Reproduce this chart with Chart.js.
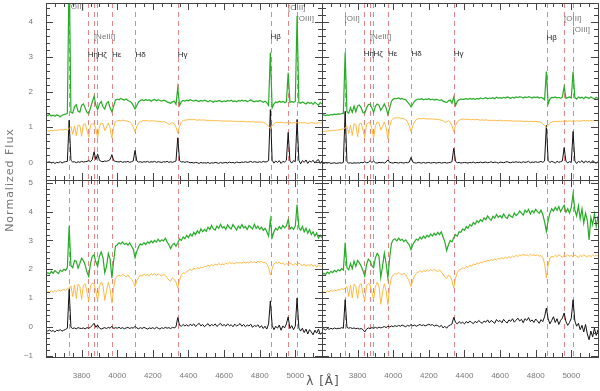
<!DOCTYPE html>
<html>
<head>
<meta charset="utf-8">
<script src="https://cdn.jsdelivr.net/npm/chart.js@4/dist/chart.umd.min.js"></script>
<style>
  body { margin: 0; background: #fff; }
  #wrap { position: relative; width: 600px; height: 391px; }
  #wrap canvas { position: absolute; left: 0; top: 0; }
</style>
</head>
<body>
<div id="wrap">
  <canvas id="tl" width="600" height="391"></canvas>
  <canvas id="tr" width="600" height="391"></canvas>
  <canvas id="bl" width="600" height="391"></canvas>
  <canvas id="br" width="600" height="391"></canvas>
</div>
<script>
// wavelength grid (Angstrom)
const LAMBDA = [
  3600,3610,3620,3630,3640,3650,3660,3670,3680,3690,
  3700,3710,3720,3730,3740,3750,3760,3770,3780,3790,
  3800,3810,3820,3830,3840,3850,3860,3870,3880,3890,
  3900,3910,3920,3930,3940,3950,3960,3970,3980,3990,
  4000,4010,4020,4030,4040,4050,4060,4070,4080,4090,
  4100,4110,4120,4130,4140,4150,4160,4170,4180,4190,
  4200,4210,4220,4230,4240,4250,4260,4270,4280,4290,
  4300,4310,4320,4330,4340,4350,4360,4370,4380,4390,
  4400,4410,4420,4430,4440,4450,4460,4470,4480,4490,
  4500,4510,4520,4530,4540,4550,4560,4570,4580,4590,
  4600,4610,4620,4630,4640,4650,4660,4670,4680,4690,
  4700,4710,4720,4730,4740,4750,4760,4770,4780,4790,
  4800,4810,4820,4830,4840,4850,4860,4870,4880,4890,
  4900,4910,4920,4930,4940,4950,4960,4970,4980,4990,
  5000,5010,5020,5030,5040,5050,5060,5070,5080,5090,
  5100,5110,5120,5130,5140,5150
];

// top left panel
const greenTL = [
  1.35,1.33,1.36,1.32,1.34,1.31,1.35,1.33,1.30,1.34,
  1.36,1.37,1.40,5.60,1.42,1.40,1.58,1.64,1.45,1.43,
  1.62,1.66,1.55,1.42,1.38,1.55,1.72,1.88,1.62,1.50,
  1.66,1.73,1.58,1.52,1.68,1.72,1.55,1.44,1.60,1.77,
  1.80,1.78,1.82,1.79,1.77,1.80,1.76,1.74,1.70,1.62,
  1.52,1.62,1.72,1.76,1.78,1.75,1.79,1.76,1.78,1.74,
  1.77,1.79,1.75,1.78,1.76,1.74,1.77,1.75,1.72,1.70,
  1.68,1.72,1.74,1.65,2.12,1.62,1.72,1.76,1.74,1.77,
  1.75,1.78,1.76,1.74,1.77,1.75,1.73,1.76,1.74,1.77,
  1.75,1.72,1.76,1.74,1.71,1.75,1.73,1.76,1.74,1.72,
  1.75,1.73,1.76,1.74,1.77,1.73,1.75,1.72,1.76,1.74,
  1.77,1.74,1.76,1.73,1.75,1.78,1.74,1.72,1.75,1.73,
  1.76,1.74,1.71,1.74,1.70,1.62,3.12,1.55,1.66,1.72,
  1.70,1.74,1.71,1.73,1.70,1.72,2.55,1.70,1.73,1.71,
  1.74,4.17,1.70,1.68,1.72,1.69,1.66,1.71,1.68,1.70,
  1.65,1.71,1.67,1.62,1.70,1.66
];
const orangeTL = [
  0.90,0.89,0.90,0.91,0.90,0.92,0.91,0.92,0.93,0.92,
  0.93,0.94,0.92,0.96,1.02,0.80,1.04,0.76,1.06,1.05,
  0.74,1.08,1.10,0.92,0.72,1.06,1.10,1.09,0.95,0.70,
  1.02,1.12,1.10,0.90,1.00,1.12,0.98,0.69,1.00,1.16,
  1.18,1.19,1.18,1.20,1.19,1.18,1.17,1.15,1.10,1.00,
  0.87,1.02,1.12,1.16,1.18,1.19,1.18,1.19,1.17,1.18,
  1.19,1.17,1.18,1.16,1.17,1.15,1.16,1.14,1.12,1.08,
  1.10,1.13,1.10,1.00,0.84,1.02,1.14,1.18,1.20,1.21,
  1.21,1.22,1.21,1.22,1.21,1.20,1.21,1.20,1.21,1.20,
  1.20,1.19,1.20,1.19,1.18,1.19,1.18,1.19,1.18,1.17,
  1.18,1.17,1.18,1.17,1.18,1.17,1.16,1.17,1.16,1.17,
  1.16,1.17,1.16,1.15,1.16,1.15,1.16,1.15,1.14,1.15,
  1.14,1.15,1.13,1.12,1.08,1.02,0.96,1.04,1.10,1.13,
  1.14,1.13,1.14,1.13,1.12,1.13,1.12,1.13,1.12,1.13,
  1.12,1.13,1.12,1.13,1.12,1.13,1.12,1.11,1.12,1.13,
  1.12,1.11,1.12,1.13,1.12,1.12
];
const blackTL = [
  0.03,0.00,0.02,-0.02,0.01,-0.03,0.00,-0.01,0.02,-0.02,
  0.01,0.02,0.03,1.20,0.06,0.01,0.02,-0.01,0.02,0.00,
  0.03,0.01,0.02,0.03,0.05,0.02,0.08,0.30,0.08,0.24,
  0.06,0.03,0.02,0.04,0.03,0.05,0.08,0.22,0.05,0.03,
  0.02,0.01,0.03,0.00,0.02,0.01,0.03,0.00,0.02,0.04,
  0.34,0.04,0.01,0.02,0.00,0.02,0.01,0.03,0.00,0.02,
  0.01,0.03,0.00,0.02,0.01,0.00,0.02,0.01,0.03,0.00,
  0.02,0.00,0.02,0.04,0.70,0.05,0.01,0.02,0.00,0.02,
  0.01,-0.01,0.00,-0.02,0.00,-0.01,-0.03,0.00,-0.02,-0.01,
  -0.02,0.00,-0.03,-0.01,-0.02,0.00,-0.01,-0.03,0.00,-0.02,
  -0.01,0.00,-0.02,0.01,-0.01,0.00,-0.02,0.01,0.00,-0.01,
  0.01,0.00,0.02,0.00,0.01,0.03,0.00,0.02,0.01,0.00,
  0.02,0.00,0.03,0.01,0.02,0.05,1.50,0.06,-0.02,0.04,
  0.00,0.05,-0.03,0.03,0.01,0.06,0.85,0.04,-0.02,0.05,
  0.02,1.22,0.06,-0.04,0.05,0.00,0.07,-0.03,0.04,0.01,
  0.06,-0.02,0.05,0.08,-0.03,0.04
];

// top right panel
const greenTR = [
  1.34,1.35,1.33,1.35,1.34,1.36,1.35,1.37,1.36,1.38,
  1.37,1.39,1.40,3.12,1.44,1.40,1.55,1.42,1.60,1.44,
  1.60,1.63,1.55,1.42,1.40,1.55,1.64,1.66,1.55,1.42,
  1.60,1.66,1.62,1.48,1.56,1.66,1.55,1.36,1.55,1.74,
  1.80,1.82,1.81,1.83,1.80,1.82,1.79,1.78,1.72,1.66,
  1.58,1.66,1.74,1.78,1.80,1.79,1.81,1.78,1.80,1.79,
  1.81,1.78,1.80,1.77,1.79,1.78,1.76,1.78,1.74,1.72,
  1.70,1.75,1.77,1.68,1.86,1.62,1.74,1.78,1.80,1.79,
  1.80,1.81,1.79,1.82,1.80,1.81,1.79,1.82,1.80,1.83,
  1.81,1.82,1.84,1.81,1.83,1.82,1.84,1.81,1.85,1.83,
  1.84,1.82,1.85,1.83,1.86,1.84,1.82,1.85,1.83,1.86,
  1.84,1.87,1.85,1.83,1.86,1.84,1.87,1.85,1.83,1.86,
  1.84,1.86,1.83,1.85,1.82,1.78,2.58,1.66,1.80,1.85,
  1.84,1.86,1.83,1.85,1.82,1.86,2.15,1.82,1.84,1.86,
  1.83,2.58,1.84,1.80,1.86,1.83,1.85,1.81,1.86,1.84,
  1.82,1.86,1.83,1.80,1.85,1.82
];
const orangeTR = [
  0.88,0.88,0.89,0.89,0.90,0.90,0.91,0.91,0.92,0.92,
  0.93,0.94,0.95,0.98,1.02,0.82,1.06,0.77,1.10,1.08,
  0.73,1.10,1.12,0.92,0.71,1.08,1.13,1.12,0.96,0.69,
  1.04,1.15,1.13,0.92,1.02,1.15,1.00,0.67,1.02,1.20,
  1.25,1.27,1.26,1.27,1.26,1.25,1.24,1.22,1.16,1.04,
  0.88,1.04,1.16,1.22,1.24,1.25,1.24,1.25,1.24,1.23,
  1.24,1.23,1.24,1.22,1.23,1.22,1.21,1.20,1.18,1.14,
  1.15,1.18,1.14,1.04,0.88,1.05,1.16,1.20,1.22,1.23,
  1.23,1.22,1.23,1.22,1.21,1.22,1.21,1.22,1.21,1.20,
  1.21,1.20,1.21,1.20,1.19,1.20,1.19,1.20,1.19,1.19,
  1.20,1.19,1.18,1.19,1.18,1.19,1.18,1.18,1.17,1.18,
  1.17,1.18,1.17,1.17,1.16,1.17,1.16,1.17,1.16,1.16,
  1.17,1.16,1.15,1.14,1.10,1.05,0.99,1.06,1.12,1.15,
  1.16,1.17,1.16,1.17,1.16,1.17,1.17,1.18,1.17,1.18,
  1.17,1.18,1.17,1.18,1.18,1.17,1.18,1.19,1.18,1.19,
  1.18,1.19,1.18,1.19,1.19,1.19
];
const blackTR = [
  -0.02,-0.03,-0.01,-0.02,0.00,-0.03,-0.02,-0.01,-0.03,-0.02,
  -0.01,-0.02,0.00,1.45,0.02,-0.02,-0.01,-0.03,-0.01,-0.02,
  -0.01,-0.02,0.00,-0.01,0.02,-0.01,0.00,0.05,0.00,0.04,
  -0.01,-0.02,0.00,-0.01,0.00,-0.02,0.01,0.07,0.00,-0.01,
  -0.02,0.00,-0.01,-0.02,0.00,-0.01,-0.02,0.00,-0.01,0.01,
  0.14,0.01,-0.01,-0.02,0.00,-0.01,-0.02,0.00,-0.02,-0.01,
  0.00,-0.02,-0.01,0.00,-0.02,-0.01,0.00,-0.02,-0.01,0.00,
  -0.02,-0.01,0.00,0.02,0.40,0.03,-0.01,0.00,-0.02,-0.01,
  0.00,-0.01,-0.02,0.00,-0.01,0.01,-0.02,0.00,-0.01,0.01,
  -0.01,0.00,0.01,-0.01,0.00,0.02,-0.01,0.01,0.00,-0.02,
  0.01,0.00,-0.01,0.01,0.02,0.00,-0.01,0.01,0.00,0.02,
  0.00,0.01,-0.01,0.02,0.00,0.01,0.03,-0.01,0.01,0.00,
  0.02,0.00,0.01,0.03,0.00,0.04,1.05,0.05,0.00,0.03,
  0.01,-0.02,0.03,0.00,0.02,0.04,0.42,0.03,-0.01,0.02,
  0.00,0.88,0.04,-0.03,0.03,0.00,0.05,-0.02,0.04,0.00,
  0.03,-0.02,0.05,0.01,-0.03,0.03
];

// bottom left panel
const greenBL = [
  1.81,1.88,1.84,1.92,1.86,1.95,1.90,1.85,1.97,1.92,
  2.00,1.96,2.06,3.50,2.12,2.05,2.30,2.28,2.04,2.20,
  2.38,2.30,2.15,1.90,1.75,2.20,2.45,2.50,2.25,2.10,
  2.45,2.60,2.40,1.88,2.10,2.55,2.35,1.70,2.30,2.80,
  2.85,2.92,2.88,2.95,2.86,2.90,2.84,2.92,2.80,2.70,
  2.40,2.62,2.78,2.88,2.84,2.92,2.86,2.95,2.90,2.98,
  2.92,3.00,2.94,3.04,2.96,3.02,2.98,3.08,2.95,2.85,
  2.72,2.85,2.90,2.80,2.92,3.05,3.00,3.12,3.06,3.18,
  3.10,3.22,3.15,3.28,3.20,3.34,3.25,3.40,3.30,3.38,
  3.32,3.46,3.38,3.52,3.40,3.36,3.50,3.42,3.56,3.44,
  3.48,3.38,3.54,3.45,3.40,3.55,3.46,3.36,3.50,3.42,
  3.55,3.44,3.48,3.38,3.52,3.46,3.40,3.56,3.42,3.50,
  3.38,3.46,3.35,3.42,3.30,3.15,3.72,3.10,3.30,3.42,
  3.36,3.48,3.40,3.52,3.44,3.50,3.72,3.40,3.46,3.38,
  3.50,4.25,3.45,3.35,3.48,3.30,3.42,3.25,3.38,3.20,
  3.30,3.15,3.26,3.08,3.18,3.10
];
const orangeBL = [
  1.17,1.22,1.19,1.25,1.20,1.26,1.22,1.28,1.24,1.27,
  1.30,1.26,1.32,1.35,1.42,1.05,1.45,0.98,1.48,1.40,
  0.95,1.45,1.50,1.20,0.90,1.42,1.52,1.48,1.25,0.92,
  1.40,1.55,1.45,0.92,1.25,1.55,1.30,0.83,1.35,1.70,
  1.75,1.80,1.76,1.82,1.78,1.74,1.80,1.72,1.65,1.55,
  1.40,1.60,1.72,1.80,1.76,1.84,1.78,1.82,1.76,1.85,
  1.80,1.86,1.78,1.84,1.80,1.76,1.83,1.78,1.70,1.62,
  1.58,1.70,1.65,1.55,1.35,1.62,1.80,1.88,1.85,1.92,
  1.95,2.00,1.96,2.04,2.00,2.06,2.02,2.08,2.05,2.10,
  2.08,2.14,2.10,2.16,2.12,2.18,2.14,2.20,2.15,2.18,
  2.16,2.22,2.18,2.24,2.20,2.22,2.18,2.25,2.21,2.24,
  2.20,2.26,2.22,2.25,2.21,2.27,2.23,2.26,2.22,2.28,
  2.24,2.27,2.22,2.25,2.18,2.05,1.80,2.02,2.18,2.24,
  2.20,2.25,2.18,2.22,2.15,2.20,2.16,2.23,2.18,2.14,
  2.20,2.15,2.22,2.16,2.12,2.18,2.10,2.16,2.12,2.18,
  2.10,2.15,2.08,2.14,2.10,2.12
];
const blackBL = [
  -0.12,-0.15,-0.11,-0.16,-0.13,-0.18,-0.12,-0.14,-0.10,-0.15,
  -0.12,-0.09,-0.05,1.30,-0.02,-0.06,-0.04,-0.07,-0.03,-0.05,
  -0.06,-0.04,-0.07,-0.03,-0.05,-0.02,0.05,0.12,-0.02,0.06,
  -0.04,-0.08,-0.05,-0.03,-0.06,-0.02,-0.05,0.02,-0.06,-0.03,
  -0.05,-0.02,-0.06,-0.03,-0.07,-0.04,-0.02,-0.06,-0.03,-0.05,
  0.02,-0.04,-0.07,-0.03,-0.06,-0.02,-0.05,-0.08,-0.04,-0.06,
  -0.03,-0.07,-0.02,-0.05,-0.08,-0.03,-0.06,-0.02,-0.05,-0.03,
  -0.06,-0.02,-0.04,0.00,0.32,0.05,0.02,0.08,0.03,0.07,
  0.02,0.09,0.04,0.10,0.01,0.07,0.12,0.03,0.08,0.00,
  0.06,0.11,0.02,0.08,0.04,0.10,0.01,0.07,0.12,0.03,
  0.08,0.02,0.10,0.04,0.07,0.00,0.09,0.03,0.06,0.11,
  0.02,0.08,0.00,0.06,0.03,0.09,-0.02,0.05,0.01,0.07,
  -0.03,0.04,-0.06,0.02,-0.08,0.10,0.90,0.05,-0.10,0.02,
  -0.05,0.06,-0.12,0.03,-0.04,0.10,0.34,-0.06,0.04,-0.10,
  0.02,1.00,-0.04,-0.15,-0.05,-0.20,-0.08,-0.25,-0.10,-0.18,
  -0.28,-0.12,-0.22,-0.08,-0.26,-0.20
];

// bottom right panel
const greenBR = [
  1.80,1.86,1.82,1.90,1.85,1.93,1.88,1.96,1.91,1.98,
  1.94,2.02,1.97,2.92,2.05,1.98,2.20,2.02,2.28,2.10,
  2.30,2.22,2.10,1.95,1.76,2.15,2.35,2.28,2.12,2.05,
  2.40,2.55,2.45,1.72,2.10,2.56,2.20,1.70,2.40,2.90,
  3.02,3.06,2.98,3.08,3.00,3.04,2.96,3.02,2.92,2.85,
  2.68,2.85,2.96,3.05,3.00,3.12,3.05,3.15,3.08,3.18,
  3.12,3.22,3.15,3.25,3.18,3.28,3.20,3.30,3.12,2.95,
  2.65,2.85,3.00,2.95,3.10,3.20,3.15,3.30,3.28,3.40,
  3.35,3.48,3.42,3.55,3.50,3.62,3.56,3.68,3.62,3.72,
  3.66,3.78,3.72,3.85,3.76,3.70,3.84,3.78,3.90,3.80,
  3.86,3.78,3.92,3.82,3.76,3.90,3.84,3.80,3.95,3.86,
  3.92,4.02,3.95,3.88,4.05,3.98,4.08,3.92,4.04,3.96,
  4.08,4.00,3.94,4.05,3.90,3.65,3.32,3.70,3.95,4.10,
  4.02,4.15,4.05,4.18,4.00,4.12,4.22,3.98,4.10,3.95,
  4.15,4.62,4.05,3.85,4.20,3.75,4.10,3.60,3.95,3.70,
  3.02,3.80,3.55,3.92,3.48,3.85
];
const orangeBR = [
  1.17,1.22,1.18,1.25,1.21,1.27,1.23,1.28,1.25,1.30,
  1.27,1.32,1.30,1.35,1.40,1.05,1.45,1.00,1.48,1.40,
  0.98,1.45,1.50,1.15,0.92,1.42,1.50,1.46,1.20,0.95,
  1.40,1.55,1.42,0.78,1.20,1.50,1.25,0.77,1.40,1.72,
  1.80,1.85,1.82,1.88,1.84,1.80,1.86,1.80,1.70,1.58,
  1.40,1.62,1.78,1.86,1.90,1.95,1.90,1.96,1.92,1.98,
  1.93,1.99,1.94,2.00,1.95,1.92,1.98,1.90,1.82,1.72,
  1.68,1.80,1.75,1.60,1.35,1.70,1.88,1.98,2.00,2.05,
  2.02,2.10,2.06,2.14,2.10,2.18,2.15,2.22,2.18,2.25,
  2.22,2.28,2.25,2.32,2.28,2.34,2.30,2.36,2.32,2.38,
  2.35,2.40,2.36,2.42,2.38,2.44,2.40,2.46,2.42,2.48,
  2.44,2.50,2.46,2.52,2.48,2.50,2.46,2.52,2.48,2.50,
  2.47,2.50,2.45,2.48,2.40,2.20,1.70,2.15,2.38,2.46,
  2.42,2.48,2.44,2.50,2.46,2.42,2.48,2.44,2.50,2.45,
  2.48,2.43,2.50,2.45,2.41,2.48,2.44,2.50,2.46,2.42,
  2.48,2.44,2.50,2.45,2.48,2.46
];
const blackBR = [
  -0.10,-0.07,-0.11,-0.06,-0.09,-0.05,-0.08,-0.04,-0.07,-0.05,
  -0.06,-0.03,-0.05,0.94,-0.02,-0.05,-0.03,-0.06,-0.04,-0.07,
  -0.05,-0.08,-0.06,-0.10,-0.18,-0.08,-0.04,-0.06,-0.03,-0.05,
  -0.02,-0.05,-0.01,-0.04,-0.02,0.01,-0.03,0.02,-0.01,0.03,
  0.00,0.04,0.01,0.05,0.02,0.06,0.03,0.00,0.05,0.02,
  0.08,0.03,0.06,0.02,0.05,0.08,0.04,0.07,0.03,0.06,
  0.09,0.05,0.08,0.02,0.06,0.04,0.00,0.05,-0.04,0.02,
  -0.05,0.03,0.06,0.10,0.33,0.15,0.10,0.18,0.12,0.16,
  0.10,0.18,0.13,0.20,0.15,0.11,0.19,0.14,0.22,0.16,
  0.12,0.20,0.16,0.24,0.14,0.22,0.17,0.12,0.25,0.18,
  0.22,0.14,0.26,0.18,0.13,0.24,0.19,0.28,0.16,0.23,
  0.30,0.20,0.26,0.14,0.28,0.22,0.32,0.18,0.24,0.15,
  0.27,0.20,0.12,0.25,0.18,0.35,0.65,0.28,0.10,0.22,
  0.35,0.15,0.28,0.08,0.22,0.30,0.48,0.18,0.05,0.15,
  0.30,0.94,0.20,0.02,0.12,-0.10,0.05,-0.18,0.08,-0.25,
  -0.45,-0.15,-0.35,-0.05,-0.30,-0.10
];

// marked lines
const LINE_WAVES = [3727, 3835, 3869, 3889, 3970, 4102, 4340, 4861, 4959, 5007];
const LINE_NAMES = ['[OII]', 'Hη', '[NeIII]', 'Hζ', 'Hε', 'Hδ', 'Hγ', 'Hβ', '[OIII]', '[OIII]'];

// axis ticks
const X_TICKS = [3800, 4000, 4200, 4400, 4600, 4800, 5000];
const Y_TICKS_TOP = [0, 1, 2, 3, 4];
const Y_TICKS_BOTTOM = [-1, 0, 1, 2, 3, 4, 5];

const X_MIN = 3600, X_MAX = 5150;
const GREEN = 'rgb(38,172,38)';
const ORANGE = 'rgb(255,184,64)';
const BLACK = '#111';
const DASH = 'rgba(226,128,128,0.95)';
const FRAME = '#444';
const TICK_FONT = { family: '"Liberation Sans", Arial, sans-serif', size: 8 };

// label heights (flux units) for the two top panels
const LABEL_Y_LEFT = [4.41, 3.05, 3.57, 3.05, 3.05, 3.05, 3.05, 3.57, 4.38, 4.08];
const LABEL_Y_RIGHT = [4.08, 3.10, 3.57, 3.10, 3.10, 3.10, 3.10, 3.55, 4.07, 3.76];

function decor(labelY, extraText) {
  return {
    id: 'decor',
    beforeDatasetsDraw(chart) {
      const { ctx, chartArea: a, scales: { x } } = chart;
      ctx.save();
      ctx.strokeStyle = DASH;
      ctx.lineWidth = 1;
      ctx.setLineDash([5, 4]);
      LINE_WAVES.forEach(w => {
        const px = Math.round(x.getPixelForValue(w)) + 0.5;
        ctx.beginPath();
        ctx.moveTo(px, a.top);
        ctx.lineTo(px, a.bottom);
        ctx.stroke();
      });
      ctx.restore();
    },
    afterDatasetsDraw(chart) {
      if (!labelY) return;
      const { ctx, scales: { x, y } } = chart;
      ctx.save();
      ctx.font = '8px "Liberation Sans", Arial, sans-serif';
      ctx.textAlign = 'left';
      ctx.textBaseline = 'middle';
      LINE_NAMES.forEach((name, i) => {
        ctx.fillStyle = name[0] === '[' ? '#777' : '#222';
        ctx.fillText(name, x.getPixelForValue(LINE_WAVES[i]), y.getPixelForValue(labelY[i]));
      });
      ctx.restore();
    },
    afterDraw(chart) {
      const { ctx, chartArea: a, scales: { x, y } } = chart;
      ctx.save();
      ctx.strokeStyle = FRAME;
      ctx.lineWidth = 1;
      ctx.strokeRect(a.left + 0.5, a.top + 0.5, a.right - a.left, a.bottom - a.top);
      ctx.beginPath();
      // x ticks, every 50 A, major at 200 A
      for (let k = Math.ceil(X_MIN / 50); k <= Math.floor(X_MAX / 50); k++) {
        const v = k * 50;
        const len = v % 200 === 0 ? 7 : 4;
        const px = Math.round(x.getPixelForValue(v)) + 0.5;
        ctx.moveTo(px, a.bottom); ctx.lineTo(px, a.bottom - len);
        ctx.moveTo(px, a.top); ctx.lineTo(px, a.top + len);
      }
      // y ticks, every 0.2, major at 1
      for (let k = Math.ceil(y.min * 5); k <= Math.floor(y.max * 5); k++) {
        const len = k % 5 === 0 ? 7 : 4;
        const py = Math.round(y.getPixelForValue(k / 5)) + 0.5;
        ctx.moveTo(a.left, py); ctx.lineTo(a.left + len, py);
        ctx.moveTo(a.right, py); ctx.lineTo(a.right - len, py);
      }
      ctx.stroke();
      if (extraText) extraText(ctx);
      ctx.restore();
    }
  };
}

function axisTitles(ctx) {
  ctx.fillStyle = '#777';
  ctx.font = '11px "DejaVu Sans", sans-serif';
  ctx.textAlign = 'center';
  ctx.textBaseline = 'middle';
  ctx.letterSpacing = '1px';
  ctx.save();
  ctx.translate(10, 180);
  ctx.rotate(-Math.PI / 2);
  ctx.fillText('Normalized Flux', 0, 0);
  ctx.restore();
  ctx.fillStyle = '#555';
  ctx.font = '12px "DejaVu Sans", sans-serif';
  ctx.fillText('λ [Å]', 323, 382);
}

function makePanel(id, box, yMin, yMax, yTicks, showX, showY, green, orange, black, labelY, extra) {
  const pts = arr => arr.map((v, i) => ({ x: LAMBDA[i], y: v }));
  const YW = 46, XH = 34;
  new Chart(document.getElementById(id), {
    type: 'line',
    data: {
      datasets: [
        { data: pts(orange), borderColor: ORANGE, borderWidth: 1 },
        { data: pts(green), borderColor: GREEN, borderWidth: 1.2 },
        { data: pts(black), borderColor: BLACK, borderWidth: 1 }
      ]
    },
    options: {
      responsive: false,
      animation: false,
      devicePixelRatio: 1,
      layout: {
        padding: {
          left: showY ? box.left - YW : box.left,
          top: box.top,
          right: 600 - box.right,
          bottom: showX ? 391 - box.bottom - XH : 391 - box.bottom
        }
      },
      elements: { point: { radius: 0 }, line: { tension: 0 } },
      plugins: { legend: { display: false }, tooltip: { enabled: false } },
      scales: {
        x: {
          type: 'linear', min: X_MIN, max: X_MAX, display: showX,
          grid: { display: false }, border: { display: false },
          afterBuildTicks: s => { s.ticks = X_TICKS.map(v => ({ value: v })); },
          afterFit: s => { s.height = showX ? XH : 0; s.paddingLeft = 0; s.paddingRight = 0; },
          ticks: { font: TICK_FONT, color: '#777', padding: 6, maxRotation: 0, autoSkip: false,
                   callback: v => String(v) }
        },
        y: {
          type: 'linear', min: yMin, max: yMax, display: showY,
          grid: { display: false }, border: { display: false },
          afterBuildTicks: s => { s.ticks = yTicks.map(v => ({ value: v })); },
          afterFit: s => { s.width = showY ? YW : 0; s.paddingTop = 0; s.paddingBottom = 0; },
          ticks: { font: TICK_FONT, color: '#777', padding: 5, autoSkip: false,
                   callback: v => (v < 0 ? '\u2212' + Math.abs(v) : String(v)) }
        }
      }
    },
    plugins: [decor(labelY, extra)]
  });
}

makePanel('tl', { left: 46, top: 3, right: 322, bottom: 180 }, -0.5, 4.53, Y_TICKS_TOP,
  false, true, greenTL, orangeTL, blackTL, LABEL_Y_LEFT, null);
makePanel('tr', { left: 322, top: 3, right: 598, bottom: 180 }, -0.5, 4.53, Y_TICKS_TOP,
  false, false, greenTR, orangeTR, blackTR, LABEL_Y_RIGHT, null);
makePanel('bl', { left: 46, top: 180, right: 322, bottom: 357 }, -1.05, 5.1, Y_TICKS_BOTTOM,
  true, true, greenBL, orangeBL, blackBL, null, axisTitles);
makePanel('br', { left: 322, top: 180, right: 598, bottom: 357 }, -1.05, 5.1, Y_TICKS_BOTTOM,
  true, false, greenBR, orangeBR, blackBR, null, null);
</script>
</body>
</html>
